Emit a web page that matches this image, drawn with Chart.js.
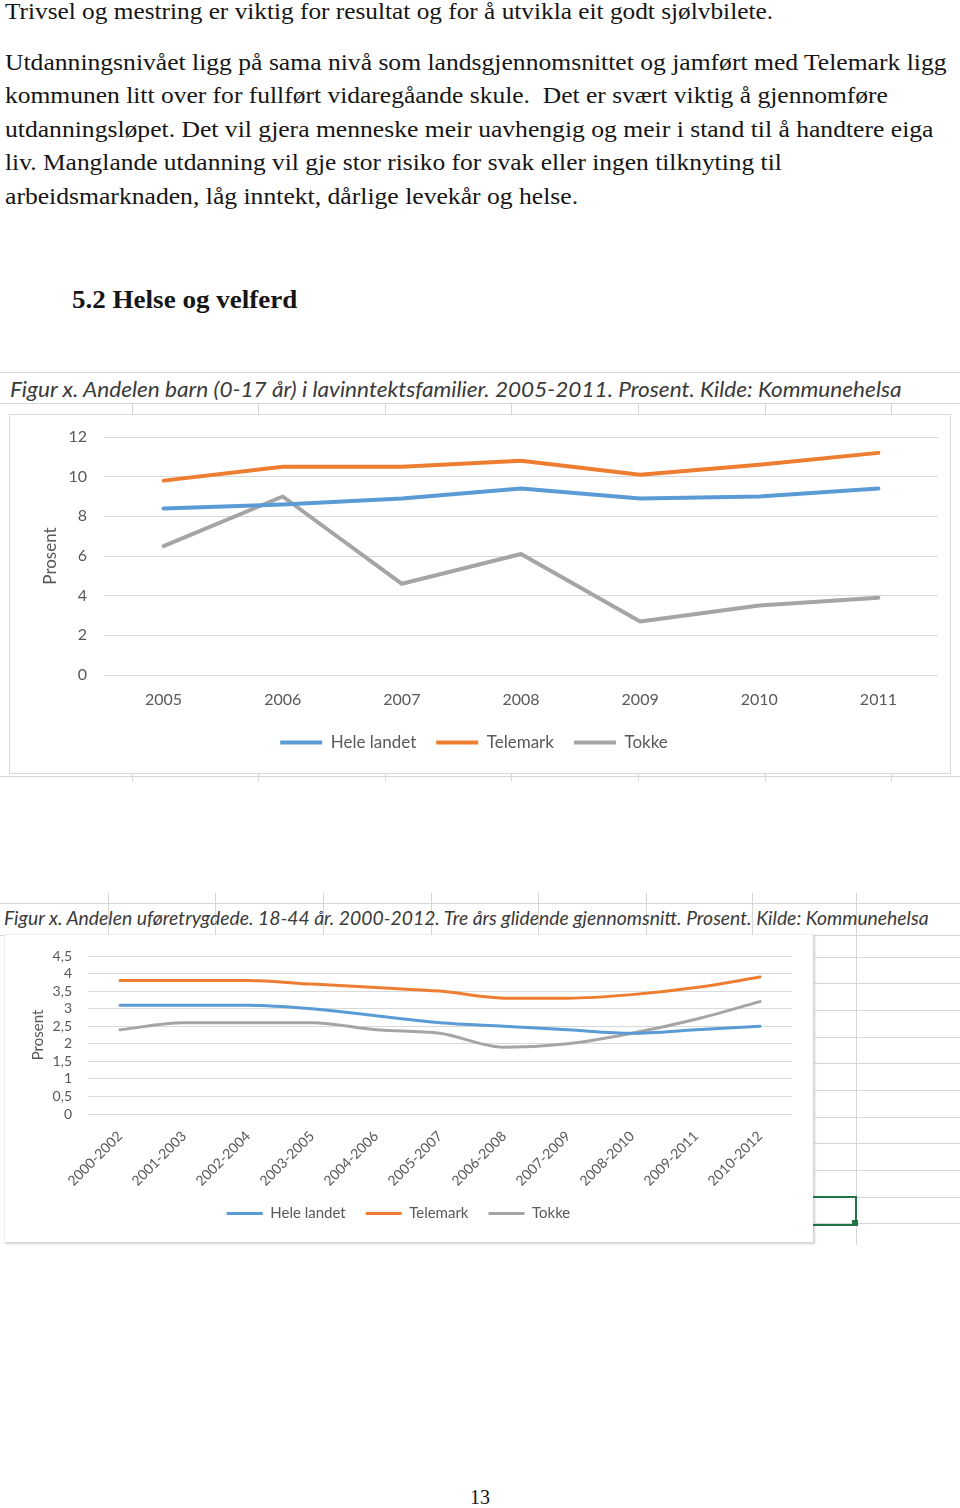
<!DOCTYPE html>
<html>
<head>
<meta charset="utf-8">
<script src="https://cdn.jsdelivr.net/npm/chart.js@4.4.0/dist/chart.umd.min.js"></script>
<style>
  body { margin: 0; width: 960px; height: 1508px; position: relative; background: #fff; overflow: hidden; }
  .t { position: absolute; white-space: pre; transform-origin: 0 50%; }
  .body { font-family: "Liberation Serif", serif; font-size: 23px; line-height: 30px; color: #151515; }
  .head { font-family: "Liberation Serif", serif; font-weight: bold; font-size: 25px; line-height: 30px; color: #151515; }
  .ftitle { font-family: Lato, "DejaVu Sans", sans-serif; font-style: italic; color: #3a3a3a; }
  .ln { position: absolute; background: #d6d6d6; }
  .box { position: absolute; background: #fff; }
  canvas { display: block; }
</style>
</head>
<body>

<div class="t body fit" data-w="768" style="left:5px; top:-3px;">Trivsel og mestring er viktig for resultat og for å utvikla eit godt sjølvbilete.</div>
<div class="t body fit" data-w="942" style="left:5px; top:48px;">Utdanningsnivået ligg på sama nivå som landsgjennomsnittet og jamført med Telemark ligg</div>
<div class="t body fit" data-w="883" style="left:5px; top:81px;">kommunen litt over for fullført vidaregåande skule.  Det er svært viktig å gjennomføre</div>
<div class="t body fit" data-w="929" style="left:5px; top:115px;">utdanningsløpet. Det vil gjera menneske meir uavhengig og meir i stand til å handtere eiga</div>
<div class="t body fit" data-w="777" style="left:5px; top:148px;">liv. Manglande utdanning vil gje stor risiko for svak eller ingen tilknyting til</div>
<div class="t body fit" data-w="573" style="left:5px; top:182px;">arbeidsmarknaden, låg inntekt, dårlige levekår og helse.</div>
<div class="t head fit" data-w="225" style="left:72px; top:285px;">5.2 Helse og velferd</div>

<div id="grid"></div>

<div class="t ftitle fit" data-w="892" style="left:10px; top:376px; font-size:21px; line-height:26px;">Figur x. Andelen barn (0-17 år) i lavinntektsfamilier. 2005-2011. Prosent. Kilde: Kommunehelsa</div>
<div class="box" style="left:10px; top:415px; width:940px; height:358px; box-shadow:0 0 0 1px #d9d9d9;">
  <canvas id="chart1" width="940" height="358"></canvas>
</div>

<div class="t ftitle fit" data-w="925" style="left:4px; top:906px; font-size:19px; line-height:24px;">Figur x. Andelen uføretrygdede. 18-44 år. 2000-2012. Tre års glidende gjennomsnitt. Prosent. Kilde: Kommunehelsa</div>
<div class="box" style="left:5px; top:935px; width:808px; height:307px; box-shadow:1px 1px 2px 1px #d0d0d0;">
  <canvas id="chart2" width="808" height="307"></canvas>
</div>
<div style="position:absolute; left:813px; top:1196px; width:42px; height:26px; border:2px solid #217346; border-left:none;"></div>
<div style="position:absolute; left:852px; top:1220px; width:6px; height:6px; background:#217346;"></div>

<div class="t" style="left:470px; top:1486px; font-family:'Liberation Serif',serif; font-size:20px; line-height:22px; color:#151515;">13</div>

<script>
// Chart 1: barn i lavinntektsfamilier
const years = ['2005', '2006', '2007', '2008', '2009', '2010', '2011'];
const heleLandet1 = [8.4, 8.6, 8.9, 9.4, 8.9, 9.0, 9.4];
const telemark1 = [9.8, 10.5, 10.5, 10.8, 10.1, 10.6, 11.2];
const tokke1 = [6.5, 9.0, 4.6, 6.1, 2.7, 3.5, 3.9];

// Chart 2: uføretrygdede 18-44 år
const periods = ['2000-2002', '2001-2003', '2002-2004', '2003-2005', '2004-2006', '2005-2007',
                 '2006-2008', '2007-2009', '2008-2010', '2009-2011', '2010-2012'];
const heleLandet2 = [3.1, 3.1, 3.1, 3.0, 2.8, 2.6, 2.5, 2.4, 2.3, 2.4, 2.5];
const telemark2 = [3.8, 3.8, 3.8, 3.7, 3.6, 3.5, 3.3, 3.3, 3.4, 3.6, 3.9];
const tokke2 = [2.4, 2.6, 2.6, 2.6, 2.4, 2.3, 1.9, 2.0, 2.3, 2.7, 3.2];

const seriesNames = ['Hele landet', 'Telemark', 'Tokke'];
const colors = ['#5b9bd5', '#ed7d31', '#a5a5a5'];

// fit text lines to widths measured from the page
document.querySelectorAll('.fit').forEach(function (el) {
    const w = +el.dataset.w;
    el.style.transform = 'scaleX(' + (w / el.offsetWidth) + ')';
});

// spreadsheet cell lines behind the charts
const grid = document.getElementById('grid');
function line(x, y, w, h) {
    const d = document.createElement('div');
    d.className = 'ln';
    d.style.cssText = `left:${x}px;top:${y}px;width:${w}px;height:${h}px;`;
    grid.appendChild(d);
}
line(0, 372, 960, 1); line(0, 403, 960, 1); line(0, 776, 960, 1);
[132, 258, 385, 511, 638, 765, 891].forEach(x => { line(x, 403, 1, 12); line(x, 773, 1, 8); });
line(0, 903, 960, 1); line(0, 935, 960, 1);
[108, 215, 323, 431, 538, 646, 752, 856].forEach(x => line(x, 893, 1, 42));
line(856, 935, 1, 310);
[957, 983, 1010, 1037, 1063, 1090, 1117, 1143, 1170, 1197, 1223].forEach(y => line(813, y, 147, 1));

Chart.defaults.font.family = 'Lato, "DejaVu Sans", sans-serif';
Chart.defaults.color = '#595959';

function datasets(a, b, c, width, smooth) {
    return [a, b, c].map((vals, i) => ({
        label: seriesNames[i],
        data: vals,
        borderColor: colors[i],
        backgroundColor: colors[i],
        borderWidth: width,
        pointRadius: 0,
        borderCapStyle: 'round',
        borderJoinStyle: 'round',
        tension: 0,
        cubicInterpolationMode: smooth ? 'monotone' : 'default'
    }));
}

new Chart(document.getElementById('chart1'), {
    type: 'line',
    data: { labels: years, datasets: datasets(heleLandet1, telemark1, tokke1, 4, false) },
    options: {
        responsive: false,
        animation: false,
        layout: { padding: { top: 22, right: 12, bottom: 12, left: 0 } },
        plugins: {
            tooltip: { enabled: false },
            legend: {
                position: 'bottom',
                labels: {
                    usePointStyle: true, pointStyle: 'line', pointStyleWidth: 42,
                    padding: 20, font: { size: 17 }, color: '#595959'
                }
            }
        },
        scales: {
            x: {
                offset: true,
                grid: { display: false, drawTicks: false },
                border: { display: false },
                ticks: { padding: 15, font: { size: 16 } },
                afterFit: s => { s.height = 39; }
            },
            y: {
                min: 0, max: 12,
                ticks: { stepSize: 2, padding: 5, font: { size: 16 }, autoSkip: false },
                grid: { color: '#d9d9d9', drawTicks: true, tickLength: 12, tickColor: 'rgba(0,0,0,0)' },
                border: { display: false },
                title: { display: true, text: 'Prosent', font: { size: 17 }, padding: { top: 30 } },
                afterFit: s => { s.width = 94; }
            }
        }
    }
});

new Chart(document.getElementById('chart2'), {
    type: 'line',
    data: { labels: periods, datasets: datasets(heleLandet2, telemark2, tokke2, 3, true) },
    options: {
        responsive: false,
        animation: false,
        layout: { padding: { top: 21, right: 21, bottom: 11, left: 0 } },
        plugins: {
            tooltip: { enabled: false },
            legend: {
                position: 'bottom',
                labels: {
                    usePointStyle: true, pointStyle: 'line', pointStyleWidth: 36,
                    padding: 20, font: { size: 15 }, color: '#595959'
                }
            }
        },
        scales: {
            x: {
                offset: true,
                grid: { display: false, drawTicks: false },
                border: { display: false },
                ticks: { padding: 14, font: { size: 14 }, minRotation: 45, maxRotation: 45, autoSkip: false },
                afterFit: s => { s.height = 72; }
            },
            y: {
                min: 0, max: 4.5,
                ticks: {
                    stepSize: 0.5, padding: 4, font: { size: 14 }, autoSkip: false,
                    callback: v => String(v).replace('.', ',')
                },
                grid: { color: '#d9d9d9', drawTicks: true, tickLength: 12, tickColor: 'rgba(0,0,0,0)' },
                border: { display: false },
                title: { display: true, text: 'Prosent', font: { size: 15 }, padding: { top: 24 } },
                afterFit: s => { s.width = 83; }
            }
        }
    }
});
</script>
</body>
</html>
